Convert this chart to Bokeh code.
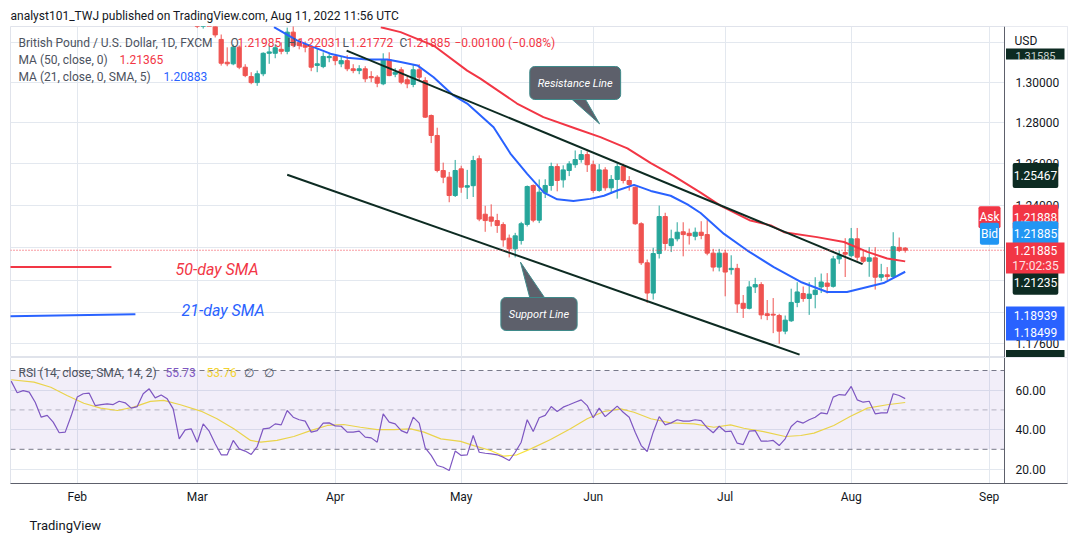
import math
from bokeh.plotting import figure
from bokeh.models import (Range1d, FixedTicker, Label, Span,
                          BoxAnnotation, ColumnDataSource, Title)
from bokeh.core.properties import value
from bokeh.layouts import column
from bokeh.embed import file_html
from bokeh.resources import INLINE

# ---------------- data ----------------
month_ticks = [0, 20, 43, 64, 86, 108, 129, 152]
month_labels = ["Feb", "Mar", "Apr", "May", "Jun", "Jul", "Aug", "Sep"]

first_bar = 20  # bar index of the first candle (0 = 1 Feb)
opens = [1.3415, 1.3283, 1.3367, 1.3340, 1.3215, 1.3100, 1.3092, 1.3176, 1.3075, 1.3028,
         1.2998, 1.3042, 1.3145, 1.3145, 1.3165, 1.3155, 1.3252, 1.3200, 1.3189, 1.3173,
         1.3084, 1.3078, 1.3123, 1.3129, 1.3092, 1.3108, 1.3067, 1.3058, 1.3067, 1.3028,
         1.3025, 1.2992, 1.3112, 1.3040, 1.3062, 1.3012, 1.2989, 1.3062, 1.3008, 1.2835,
         1.2737, 1.2567, 1.2535, 1.2447, 1.2575, 1.2487, 1.2494, 1.2624, 1.2358, 1.2345,
         1.2328, 1.2309, 1.2245, 1.2195, 1.2234, 1.2310, 1.2495, 1.2330, 1.2460, 1.2495,
         1.2586, 1.2522, 1.2567, 1.2595, 1.2620, 1.2644, 1.2595, 1.2471, 1.2570, 1.2484,
         1.2524, 1.2586, 1.2519, 1.2487, 1.2313, 1.2130, 1.1990, 1.2173, 1.2347, 1.2210,
         1.2242, 1.2275, 1.2268, 1.2254, 1.2273, 1.2262, 1.2175, 1.2110, 1.2175, 1.2098,
         1.2104, 1.1943, 1.1920, 1.2018, 1.2029, 1.1895, 1.1893, 1.1887, 1.1816, 1.1863,
         1.1947, 1.1988, 1.1965, 1.1983, 1.2018, 1.2036, 1.2021, 1.2148, 1.2178, 1.2163,
         1.2242, 1.2156, 1.2137, 1.2153, 1.2063, 1.2074, 1.2066, 1.2202, 1.21985]
highs = [1.3438, 1.3390, 1.3437, 1.3348, 1.3240, 1.3175, 1.3190, 1.3185, 1.3090, 1.3050,
         1.3058, 1.3150, 1.3183, 1.3190, 1.3200, 1.3275, 1.3290, 1.3220, 1.3205, 1.3180,
         1.3167, 1.3150, 1.3145, 1.3140, 1.3130, 1.3135, 1.3090, 1.3085, 1.3080, 1.3055,
         1.3035, 1.3145, 1.3150, 1.3070, 1.3075, 1.3030, 1.3090, 1.3090, 1.3025, 1.2840,
         1.2775, 1.2605, 1.2560, 1.2618, 1.2590, 1.2570, 1.2638, 1.2640, 1.2398, 1.2405,
         1.2360, 1.2320, 1.2262, 1.2270, 1.2322, 1.2495, 1.2500, 1.2524, 1.2525, 1.2605,
         1.2600, 1.2592, 1.2612, 1.2664, 1.2666, 1.2660, 1.2615, 1.2598, 1.2583, 1.2545,
         1.2601, 1.2600, 1.2540, 1.2490, 1.2320, 1.2145, 1.2200, 1.2399, 1.2365, 1.2285,
         1.2320, 1.2320, 1.2290, 1.2295, 1.2325, 1.2330, 1.2195, 1.2195, 1.2190, 1.2165,
         1.2125, 1.1981, 1.2045, 1.2060, 1.2040, 1.1958, 1.1967, 1.1895, 1.1887, 1.2010,
         1.2040, 1.2020, 1.2040, 1.2063, 1.2080, 1.2082, 1.2162, 1.2187, 1.2245, 1.2293,
         1.2293, 1.2185, 1.2203, 1.2203, 1.2125, 1.2110, 1.2273, 1.2248, 1.22031]
lows = [1.3273, 1.3270, 1.3318, 1.3225, 1.3083, 1.3080, 1.3085, 1.3065, 1.3025, 1.2990,
        1.2982, 1.3030, 1.3092, 1.3120, 1.3140, 1.3140, 1.3175, 1.3165, 1.3150, 1.3055,
        1.3050, 1.3070, 1.3100, 1.3085, 1.3075, 1.3055, 1.3045, 1.3040, 1.3000, 1.3000,
        1.2975, 1.2985, 1.3030, 1.3025, 1.2990, 1.2970, 1.2975, 1.3010, 1.2823, 1.2700,
        1.2558, 1.2506, 1.2415, 1.2440, 1.2460, 1.2430, 1.2440, 1.2325, 1.2275, 1.2300,
        1.2270, 1.2205, 1.2155, 1.2155, 1.2215, 1.2300, 1.2320, 1.2316, 1.2435, 1.2470,
        1.2467, 1.2485, 1.2540, 1.2580, 1.2605, 1.2560, 1.2460, 1.2465, 1.2470, 1.2455,
        1.2432, 1.2505, 1.2470, 1.2308, 1.2120, 1.1945, 1.1960, 1.2150, 1.2190, 1.2180,
        1.2230, 1.2160, 1.2215, 1.2235, 1.2240, 1.2165, 1.2090, 1.2090, 1.1975, 1.2075,
        1.1899, 1.1876, 1.1915, 1.1990, 1.1870, 1.1866, 1.1807, 1.1759, 1.1802, 1.1858,
        1.1925, 1.1950, 1.1890, 1.1920, 1.1990, 1.1988, 1.2015, 1.2125, 1.2064, 1.2155,
        1.2140, 1.2128, 1.2065, 1.2006, 1.2045, 1.2050, 1.2060, 1.2180, 1.21772]
closes = [1.3283, 1.3367, 1.3340, 1.3238, 1.3095, 1.3092, 1.3176, 1.3075, 1.3033, 1.2998,
          1.3042, 1.3145, 1.3152, 1.3173, 1.3155, 1.3252, 1.3185, 1.3184, 1.3176, 1.3075,
          1.3092, 1.3129, 1.3129, 1.3108, 1.3108, 1.3067, 1.3058, 1.3067, 1.3017, 1.3022,
          1.2995, 1.3112, 1.3033, 1.3050, 1.3000, 1.2992, 1.3062, 1.3025, 1.2827, 1.2737,
          1.2567, 1.2535, 1.2447, 1.2567, 1.2487, 1.2494, 1.2615, 1.2335, 1.2328, 1.2325,
          1.2305, 1.2237, 1.2195, 1.2256, 1.2313, 1.2490, 1.2330, 1.2463, 1.2495, 1.2586,
          1.2519, 1.2570, 1.2599, 1.2620, 1.2644, 1.2595, 1.2471, 1.2570, 1.2484, 1.2524,
          1.2586, 1.2519, 1.2500, 1.2313, 1.2130, 1.1990, 1.2173, 1.2347, 1.2220, 1.2242,
          1.2273, 1.2262, 1.2257, 1.2273, 1.2258, 1.2175, 1.2110, 1.2175, 1.2087, 1.2104,
          1.1940, 1.1920, 1.2018, 1.2029, 1.1890, 1.1887, 1.1889, 1.1816, 1.1866, 1.1947,
          1.1995, 1.1965, 1.1985, 1.2003, 1.2041, 1.2021, 1.2148, 1.2163, 1.2170, 1.2242,
          1.2156, 1.2137, 1.2153, 1.2063, 1.2075, 1.2066, 1.2205, 1.2187, 1.21885]

ma50_x = [50.6, 53.9, 59.4, 65.0, 67.2, 73.3, 77.7, 83.3, 87.2, 91.7, 95.6, 99.4, 103.9,
          107.2, 112.2, 115.6, 117.8, 123.3, 127.8, 131.7, 135.0, 138.0]
ma50_y = [1.3277, 1.3252, 1.3184, 1.3058, 1.3018, 1.2894, 1.2827, 1.2769, 1.2729, 1.2674,
          1.2603, 1.2541, 1.2461, 1.2399, 1.2328, 1.2305, 1.2273, 1.2250, 1.2227, 1.2181,
          1.2150, 1.21365]
ma21_x = [32.8, 36.7, 39.4, 42.2, 45.0, 48.3, 51.7, 53.9, 56.7, 59.4, 62.7, 65.0, 69.4,
          72.2, 75.0, 77.8, 80.0, 82.7, 85.5, 87.8, 90.0, 92.8, 95.6, 98.9, 101.7, 103.9,
          107.8, 111.7, 116.1, 120.6, 125.0, 128.3, 131.7, 134.4, 138.0]
ma21_y = [1.3277, 1.3209, 1.3176, 1.3143, 1.3123, 1.3114, 1.3114, 1.3101, 1.3084, 1.3025,
          1.2934, 1.2894, 1.2777, 1.2649, 1.2551, 1.2461, 1.2429, 1.2421, 1.2431, 1.2446,
          1.2471, 1.2498, 1.2469, 1.2446, 1.2405, 1.2364, 1.2265, 1.2187, 1.2110, 1.2041,
          1.1995, 1.1995, 1.2018, 1.2036, 1.20883]

resist_x = [44.9, 130.9]
resist_y = [1.31585, 1.21235]
support_x = [35.0, 120.4]
support_y = [1.25467, 1.17101]
note50_x = [-11.2, 5.7]
note50_y = [1.2110, 1.2110]
note21_x = [-11.2, 9.7]
note21_y = [1.1884, 1.1893]
last_price = 1.21885

rsi_first = -11
rsi_vals = [64.6, 58.7, 59.8, 59.0, 53.9, 46.3, 47.2, 43.8, 38.4, 38.7, 47.0,
            56.5, 58.2, 58.5, 52.2, 52.7, 53.1, 52.7, 54.4, 53.6, 50.9,
            51.7, 58.2, 60.7, 56.1, 57.6, 55.6, 50.5, 35.3, 39.9, 40.4,
            33.6, 42.9, 39.2, 32.8, 27.2, 27.2, 34.5, 30.2, 29.1, 27.4,
            31.4, 40.4, 40.7, 42.9, 42.4, 49.7, 46.3, 45.0, 44.3, 38.7,
            39.5, 43.3, 43.4, 41.9, 41.7, 38.7, 38.7, 39.2, 36.2, 35.8,
            33.6, 48.0, 43.8, 42.9, 39.5, 38.2, 46.3, 43.3, 30.7, 26.9,
            21.8, 20.9, 19.2, 29.1, 26.9, 27.2, 37.0, 28.5, 28.0, 27.7,
            27.2, 26.0, 24.3, 28.5, 33.6, 45.0, 39.0, 46.0, 47.2, 51.7,
            49.2, 51.4, 52.6, 53.9, 55.1, 52.2, 46.0, 50.9, 46.6, 49.2,
            51.9, 48.8, 46.3, 38.7, 31.9, 28.9, 38.7, 46.6, 42.4, 43.4,
            45.0, 44.3, 44.3, 45.0, 44.6, 40.9, 38.4, 41.7, 39.0, 39.2,
            33.1, 32.4, 39.2, 39.5, 34.1, 34.1, 34.5, 31.9, 35.3, 41.6,
            44.3, 43.3, 45.0, 46.3, 48.5, 48.0, 56.5, 57.8, 57.5, 61.9,
            55.1, 53.9, 54.4, 48.0, 48.5, 48.5, 58.2, 57.3, 55.73]
rsi_sma_x = [-11, -7.2, -4.4, -1.7, 1.1, 3.9, 6.7, 9.4, 12.2, 14.4, 17.2, 20.6, 23.3, 26.1,
             28.9, 30.6, 33.3, 36.1, 38.9, 41.7, 44.4, 47.2, 50, 52.8, 55.6, 57.8, 60.6,
             63.9, 66.1, 68.9, 71.1, 73.3, 75.6, 78.9, 82.2, 85, 87.8, 90.6, 92.8, 95.6,
             98.9, 102.8, 106.1, 108.9, 111.1, 114.4, 118, 120.6, 122.8, 126.1, 128.9,
             131.7, 135, 138]
rsi_sma_y = [65.3, 64.1, 61.5, 57.3, 53.4, 50.9, 49.7, 51.4, 54.3, 54.8, 52.6, 49.4, 45.5,
             40.4, 34.5, 33.6, 34.5, 36.5, 39.5, 42.1, 42.6, 41.2, 40.0, 40.0, 40.4, 38.7,
             35.3, 34.0, 31.9, 29.4, 26.5, 27.2, 30.2, 35.0, 40.4, 45.5, 49.2, 50.5, 48.8,
             45.5, 43.4, 42.9, 41.2, 42.4, 40.7, 39.0, 36.5, 37.0, 38.2, 42.1, 46.8, 50.9,
             52.6, 53.76]

price_ticks = [1.176, 1.24, 1.26, 1.28, 1.30]
price_grid = [1.176, 1.19, 1.205, 1.22, 1.24, 1.26, 1.28, 1.30, 1.32]
rsi_ticks = [20, 40, 60]

# ---------------- pixel helpers (layout only) ----------------
X0, DX = 76.7, 6.0
def xi(px):
    return (px - X0) / DX
def yp(py):
    return 1.30 * math.exp(-(py - 81.7) / 2607.0)
def yr(py):
    return 70.0 - (py - 370.0) / 1.97

FONT = "Roboto"
TXT = "#131722"
LEG = "#4C525E"
GRID = "#E3E8EF"
SEP = "#5D606B"
UP, DN = "#26A69A", "#EF5350"
RED, BLUE = "#F23645", "#2962FF"
TREND = "#0D2B22"

def lab(fig, px, y, text, size="12px", color=TXT, align="left", style="normal",
        bg=None, pad=None, radius=0, border=None):
    kw = dict(x=xi(px), y=y, text=text, text_font=FONT, text_font_size=size,
              text_color=color, text_align=align, text_baseline="middle",
              text_font_style=style)
    if bg is not None:
        kw["background_fill_color"] = bg
    if pad is not None:
        kw["padding"] = pad
    if radius:
        kw["border_radius"] = radius
    if border is not None:
        kw["border_line_color"] = border
    fig.add_layout(Label(**kw))

def tag_box(fig, top_px, bottom_px, color):
    fig.add_layout(BoxAnnotation(left=xi(1005.5), right=xi(1064), top=yp(top_px),
                                 bottom=yp(bottom_px), fill_color=color, fill_alpha=1.0,
                                 line_alpha=0))

XR = Range1d(xi(10), xi(1067))

# ---------------- price pane ----------------
p1 = figure(frame_width=1057, frame_height=331, min_border_left=10, min_border_right=2,
            min_border_top=26, min_border_bottom=0,
            x_range=XR, y_range=Range1d(yp(357), yp(26)),
            y_axis_type="log", x_axis_location=None, y_axis_location=None,
            output_backend="svg", toolbar_location=None,
            background_fill_color="white", border_fill_color="white")
p1.title.text = "analyst101_TWJ published on TradingView.com, Aug 11, 2022 11:56 UTC"
p1.title.align = "left"
p1.title.text_font = FONT
p1.title.text_font_style = "normal"
p1.title.text_font_size = "12px"
p1.title.text_color = TXT
p1.title.standoff = 7
p1.outline_line_color = "#E0E3EB"
p1.xgrid.ticker = FixedTicker(ticks=month_ticks)
p1.ygrid.ticker = FixedTicker(ticks=price_grid)
p1.xgrid.grid_line_color = GRID
p1.ygrid.grid_line_color = GRID
# price-scale strip on the right of the pane
p1.add_layout(BoxAnnotation(left=xi(1004), fill_color="white", fill_alpha=1.0,
                            line_alpha=0, level="underlay"))
p1.add_layout(Span(location=xi(1004), dimension="height", line_color=SEP, line_width=1))

idx = list(range(first_bar, first_bar + len(opens)))
cols = [UP if c >= o else DN for o, c in zip(opens, closes)]
src = ColumnDataSource(dict(x=idx, h=highs, l=lows,
                            top=[max(o, c) for o, c in zip(opens, closes)],
                            bot=[min(o, c) for o, c in zip(opens, closes)], color=cols))
p1.segment(x0="x", y0="l", x1="x", y1="h", line_color="color", line_width=1, source=src)
p1.vbar(x="x", top="top", bottom="bot", width=0.7, fill_color="color", line_color="color",
        source=src)

p1.line(ma50_x, ma50_y, line_color=RED, line_width=2)
p1.line(ma21_x, ma21_y, line_color=BLUE, line_width=2)
p1.line(resist_x, resist_y, line_color=TREND, line_width=2)
p1.line(support_x, support_y, line_color=TREND, line_width=2)
p1.line(note50_x, note50_y, line_color=RED, line_width=2)
p1.line(note21_x, note21_y, line_color=BLUE, line_width=2)
p1.segment(x0=[XR.start], x1=[xi(1004)], y0=[last_price], y1=[last_price],
           line_color=RED, line_width=1, line_dash="1 2")

# price-scale tick labels
tick_src = ColumnDataSource(dict(x=[xi(1015)] * len(price_ticks), y=price_ticks,
                                 t=["%.5f" % v for v in price_ticks]))
p1.text(x="x", y="y", text="t", source=tick_src, text_font=value(FONT),
        text_font_size="12px", text_color=TXT, text_baseline="middle", text_align="left")

# callout pointers and boxes
CALL_BG = "#5D606B"
p1.patch([xi(568.3), xi(583.3), xi(599)], [yp(96), yp(96), yp(123.3)],
         fill_color=CALL_BG, line_color="#3E8A8A", line_width=1)
p1.patch([xi(530), xi(546), xi(520)], [yp(300), yp(300), yp(261.7)],
         fill_color=CALL_BG, line_color="#3E8A8A", line_width=1)
lab(p1, 574.7, yp(82.5), "Resistance Line", size="11px", color="white", align="center",
    style="italic", bg=CALL_BG, pad=(8, 10), radius=5, border="#3E8A8A")
lab(p1, 538.5, yp(313.5), "Support Line", size="11px", color="white", align="center",
    style="italic", bg=CALL_BG, pad=(8, 10), radius=5, border="#3E8A8A")

lab(p1, 175, yp(268.5), "50-day SMA", size="16px", color=RED, style="italic")
lab(p1, 181, yp(309.5), "21-day SMA", size="16px", color=BLUE, style="italic")

# legend
lab(p1, 18, yp(42), "British Pound / U.S. Dollar, 1D, FXCM", color=LEG)
for px, t, c in [(230, "O", LEG), (237, "1.21985", RED), (287, "H", LEG), (297, "1.22031", RED),
                 (342, "L", LEG), (349, "1.21772", RED), (399, "C", LEG), (406, "1.21885", RED),
                 (454, "\u22120.00100 (\u22120.08%)", RED)]:
    lab(p1, px, yp(42), t, color=c)
lab(p1, 18, yp(59), "MA (50, close, 0)", color=LEG)
lab(p1, 119, yp(59), "1.21365", color=RED)
lab(p1, 18, yp(76), "MA (21, close, 0, SMA, 5)", color=LEG)
lab(p1, 163, yp(76), "1.20883", color=BLUE)

# price scale value labels
lab(p1, 1014, yp(40), "USD", color=TXT)
tag_box(p1, 48, 59, TREND)
lab(p1, 1035, yp(55), "1.31585", size="11px", color="#C9D1CE", align="center")
for py, t, bg in [(175, "1.25467", TREND), (216.7, "1.21888", RED),
                  (233.3, "1.21885", "#2196F3"), (281.7, "1.21235", TREND)]:
    lab(p1, 1035, yp(py), t, color="white", align="center", bg=bg, pad=(1, 8), radius=2)
tag_box(p1, 242, 273, RED)
lab(p1, 1035, yp(250), "1.21885", color="white", align="center")
lab(p1, 1035, yp(265), "17:02:35", color="#FDE2E4", align="center")
tag_box(p1, 306, 340, BLUE)
lab(p1, 1035, yp(314.5), "1.18939", color="white", align="center")
lab(p1, 1035, yp(331.5), "1.18499", color="white", align="center")
tag_box(p1, 349.5, 357, TREND)
lab(p1, 989, yp(216.7), "Ask", color="white", align="center", bg=RED, pad=(1, 4), radius=2)
lab(p1, 989, yp(233.3), "Bid", color="white", align="center", bg="#2196F3", pad=(1, 4), radius=2)

# ---------------- RSI pane ----------------
p2 = figure(frame_width=1057, frame_height=126, min_border_left=10, min_border_right=2,
            min_border_top=0, min_border_bottom=58,
            x_range=XR, y_range=Range1d(yr(483), yr(357)),
            y_axis_location=None, x_axis_location="below",
            output_backend="svg", toolbar_location=None,
            background_fill_color="white", border_fill_color="white")
p2.outline_line_color = "#E0E3EB"
p2.xgrid.ticker = FixedTicker(ticks=month_ticks)
p2.ygrid.ticker = FixedTicker(ticks=rsi_ticks)
p2.xgrid.grid_line_color = GRID
p2.ygrid.grid_line_color = GRID
p2.xaxis.ticker = FixedTicker(ticks=month_ticks)
p2.xaxis.major_label_overrides = {t: l for t, l in zip(month_ticks, month_labels)}
p2.xaxis.major_tick_line_color = None
p2.xaxis.minor_tick_line_color = None
p2.xaxis.major_tick_out = 0
p2.xaxis.minor_tick_out = 0
p2.xaxis.axis_line_color = SEP
p2.xaxis.major_label_text_font = FONT
p2.xaxis.major_label_text_font_size = "12px"
p2.xaxis.major_label_text_color = TXT
p2.xaxis.major_label_standoff = 6

p2.add_layout(BoxAnnotation(left=xi(1004), fill_color="white", fill_alpha=1.0,
                            line_alpha=0, level="underlay"))
p2.add_layout(BoxAnnotation(bottom=30, top=70, right=xi(1004), fill_color="#7E57C2",
                            fill_alpha=0.1, line_alpha=0))
for lvl, a in [(70, 1.0), (50, 0.5), (30, 1.0)]:
    p2.segment(x0=[XR.start], x1=[xi(1004)], y0=[lvl], y1=[lvl], line_color="#787B86",
               line_alpha=a, line_width=1, line_dash="5 4")
p2.add_layout(Span(location=xi(1004), dimension="height", line_color=SEP, line_width=1))

rsi_x = list(range(rsi_first, rsi_first + len(rsi_vals)))
p2.line(rsi_sma_x, rsi_sma_y, line_color="#F7E23E", line_width=1.2)
p2.line(rsi_x, rsi_vals, line_color="#7E57C2", line_width=1.2)

rsi_tick_src = ColumnDataSource(dict(x=[xi(1015)] * len(rsi_ticks), y=rsi_ticks,
                                     t=["%.2f" % v for v in rsi_ticks]))
p2.text(x="x", y="y", text="t", source=rsi_tick_src, text_font=value(FONT),
        text_font_size="12px", text_color=TXT, text_baseline="middle", text_align="left")

lab(p2, 18, yr(372), "RSI (14, close, SMA, 14, 2)", color=LEG)
lab(p2, 165, yr(372), "55.73", color="#7E57C2")
lab(p2, 206, yr(372), "53.76", color="#F2D230")
lab(p2, 243, yr(372), "\u2205", color=LEG)
lab(p2, 263, yr(372), "\u2205", color=LEG)

p2.add_layout(Title(text="TradingView", align="left", offset=19, standoff=18,
                    text_font=FONT, text_font_size="13px", text_font_style="normal",
                    text_color=TXT), "below")

layout = column(p1, p2)
open("out.html", "w").write(file_html(layout, INLINE))
